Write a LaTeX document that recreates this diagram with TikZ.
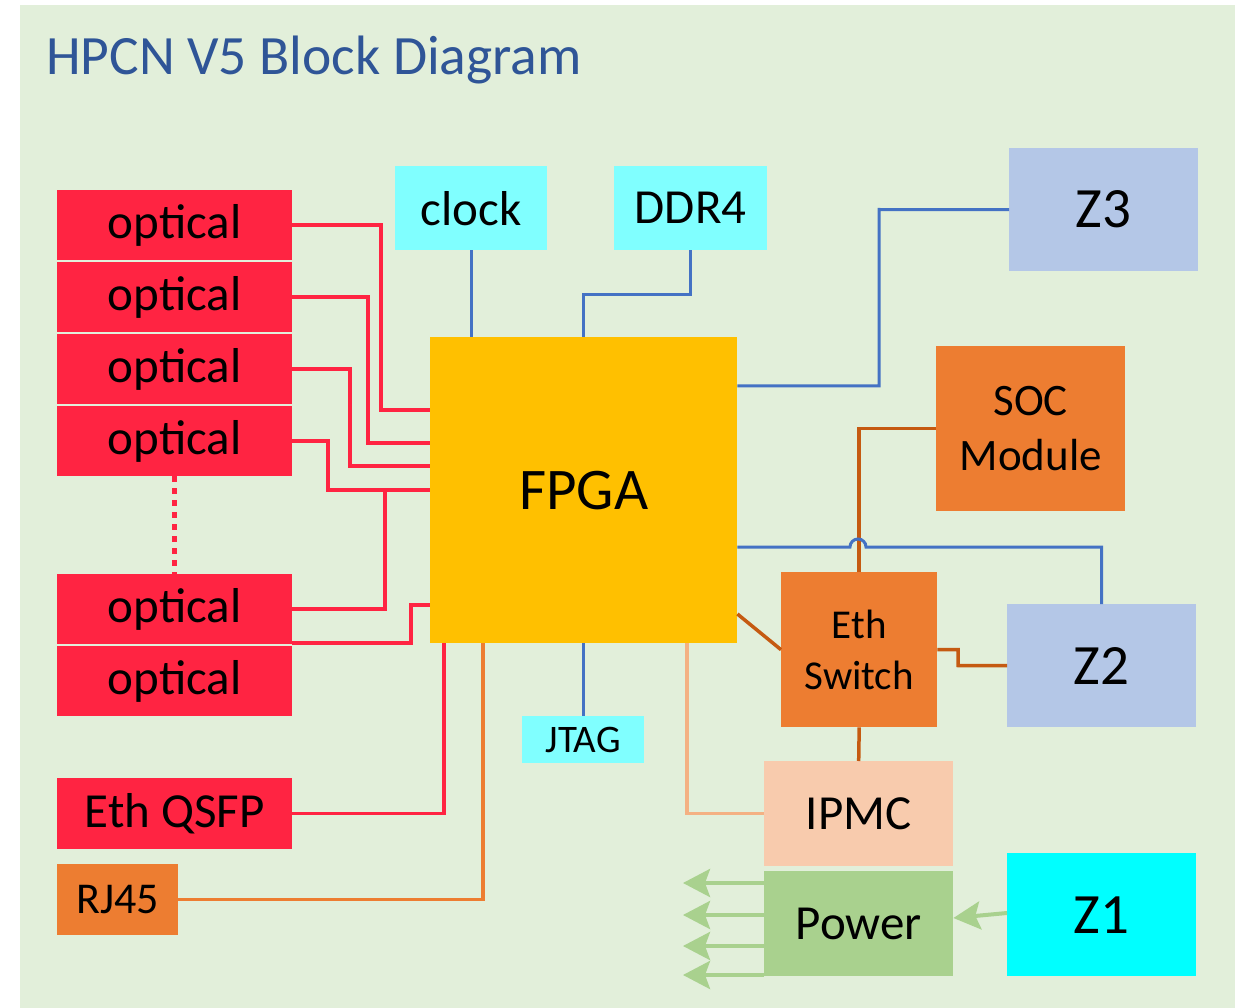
\documentclass[tikz,border=0pt]{standalone}
\usepackage{fontspec}
\setmainfont{Carlito}
\usetikzlibrary{arrows.meta}
\definecolor{bggreen}{HTML}{E2EFDA}
\definecolor{titleblue}{HTML}{2F5597}
\definecolor{optred}{HTML}{FF2442}
\definecolor{lightcyan}{HTML}{80FFFF}
\definecolor{zblue}{HTML}{B4C7E7}
\definecolor{zcyan}{HTML}{00FFFF}
\definecolor{fpgayel}{HTML}{FFC000}
\definecolor{boxorange}{HTML}{ED7D31}
\definecolor{ipmcpeach}{HTML}{F8CBAD}
\definecolor{pwrgreen}{HTML}{A9D18E}
\definecolor{lineblue}{HTML}{4472C4}
\definecolor{darkorange}{HTML}{C55A11}
\definecolor{peachline}{HTML}{F4B183}
\newcommand{\fsz}[2]{\fontsize{#1}{#2}\selectfont}

\begin{document}
\begin{tikzpicture}[x=1pt,y=-1pt,
  blk/.style={rectangle,inner sep=0pt,anchor=north west,align=center,text=black},
  redln/.style={draw=optred,line width=3.5pt},
  blueln/.style={draw=lineblue,line width=3pt},
  pwrarr/.style={draw=pwrgreen,line width=4pt,-{Stealth[length=27pt,width=28pt,inset=5pt]}}]
  \useasboundingbox (0,0) rectangle (1243,1008);
  % 背景
  \fill[white] (0,0) rectangle (1243,1008);
  \fill[bggreen] (20,5) rectangle (1235,1008);
  \node[anchor=base west,inner sep=0pt,text=titleblue,font=\fsz{55.5}{60}] (title) at (46,75) {HPCN V5 Block Diagram};
  % 左側 optical
  \node[blk,fill=optred,minimum width=235pt,minimum height=70pt,font=\fsz{49}{54}] (opt1) at (57,190) {optical};
  \node[blk,fill=optred,minimum width=235pt,minimum height=70pt,font=\fsz{49}{54}] (opt2) at (57,262) {optical};
  \node[blk,fill=optred,minimum width=235pt,minimum height=70pt,font=\fsz{49}{54}] (opt3) at (57,334) {optical};
  \node[blk,fill=optred,minimum width=235pt,minimum height=70pt,font=\fsz{49}{54}] (opt4) at (57,406) {optical};
  \node[blk,fill=optred,minimum width=235pt,minimum height=70pt,font=\fsz{49}{54}] (opt5) at (57,574) {optical};
  \node[blk,fill=optred,minimum width=235pt,minimum height=70pt,font=\fsz{49}{54}] (opt6) at (57,646) {optical};
  \node[blk,fill=optred,minimum width=235pt,minimum height=71pt,font=\fsz{49}{54}] (qsfp) at (57,778) {Eth QSFP};
  \node[blk,fill=boxorange,minimum width=121pt,minimum height=71pt,font=\fsz{44}{50}] (rj) at (57,864) {RJ45};
  \draw[optred,line width=5pt,dash pattern=on 6pt off 6pt] (opt4.south) -- (opt5.north);
  % 中央
  \node[blk,fill=lightcyan,minimum width=152pt,minimum height=84pt,font=\fsz{49}{54}] (clock) at (395,166) {clock};
  \node[blk,fill=lightcyan,minimum width=153pt,minimum height=84pt,font=\fsz{49}{54}] (ddr) at (614,166) {DDR4};
  \node[blk,fill=fpgayel,minimum width=307pt,minimum height=306pt,font=\fsz{59}{64}] (fpga) at (430,337) {FPGA};
  \node[blk,fill=lightcyan,minimum width=122pt,minimum height=47pt,font=\fsz{39}{44}] (jtag) at (522,716) {JTAG};
  % 右側
  \node[blk,fill=zblue,minimum width=189pt,minimum height=123pt,font=\fsz{57}{60}] (z3) at (1009,148) {Z3};
  \node[blk,fill=boxorange,minimum width=189pt,minimum height=165pt,font=\fsz{45}{55}] (soc) at (936,346) {SOC\\Module};
  \node[blk,fill=boxorange,minimum width=156pt,minimum height=155pt,font=\fsz{41}{51}] (eth) at (781,572) {Eth\\Switch};
  \node[blk,fill=zblue,minimum width=189pt,minimum height=123pt,font=\fsz{57}{60}] (z2) at (1007,604) {Z2};
  \node[blk,fill=ipmcpeach,minimum width=189pt,minimum height=105pt,font=\fsz{49}{54}] (ipmc) at (764,761) {IPMC};
  \node[blk,fill=pwrgreen,minimum width=189pt,minimum height=105pt,font=\fsz{49}{54}] (power) at (764,871) {Power};
  \node[blk,fill=zcyan,minimum width=189pt,minimum height=123pt,font=\fsz{57}{60}] (z1) at (1007,853) {Z1};
  % 赤の配線
  \draw[redln] (opt1.east) -| (381,410) -- (fpga.west |- 0,410);
  \draw[redln] (opt2.east) -| (368,443) -- (fpga.west |- 0,443);
  \draw[redln] (opt3.east) -| (350,466) -- (fpga.west |- 0,466);
  \draw[redln] (opt4.east) -| (328,490) -- (fpga.west |- 0,490);
  \draw[redln] (opt5.east) -| (385,490);
  \draw[redln] ([yshift=3pt]opt6.north east) -| (411,605) -- (fpga.west |- 0,605);
  \draw[redln] (qsfp.east) -| (fpga.south -| 444,0);
  % 橙の配線
  \draw[boxorange,line width=3.5pt] (rj.east) -| (fpga.south -| 483,0);
  \draw[peachline,line width=3.5pt] (fpga.south -| 687,0) |- (ipmc.west);
  \draw[darkorange,line width=3.5pt] (fpga.east |- 0,614) -- (eth.west);
  \draw[darkorange,line width=3.5pt] (eth.north) |- (soc.west);
  \draw[darkorange,line width=3.5pt] (eth.east) -| (958,665.5) -- (z2.west);
  \draw[darkorange,line width=3.5pt] (eth.south) -- (ipmc.north);
  % 青の配線
  \draw[blueln] (clock.south) -- (fpga.north -| clock.south);
  \draw[blueln] (ddr.south) |- (583,295) -- (fpga.north -| 583,0);
  \draw[blueln] (fpga.east |- 0,386) -| (879,209.5) -- (z3.west);
  \draw[blueln] (fpga.east |- 0,547) -- (850,547) arc[start angle=180,end angle=0,radius=8pt] -| (z2.north);
  \draw[blueln] (fpga.south -| jtag.north) -- (jtag.north);
  % 電源
  \foreach \y [count=\i] in {883,915,946,975} {
    \coordinate (out\i) at (683,\y);
    \draw[pwrarr] (power.west |- out\i) -- (out\i);
  }
  \draw[pwrarr] (z1.west |- 0,913) -- (power.east |- 0,918);
\end{tikzpicture}
\end{document}
